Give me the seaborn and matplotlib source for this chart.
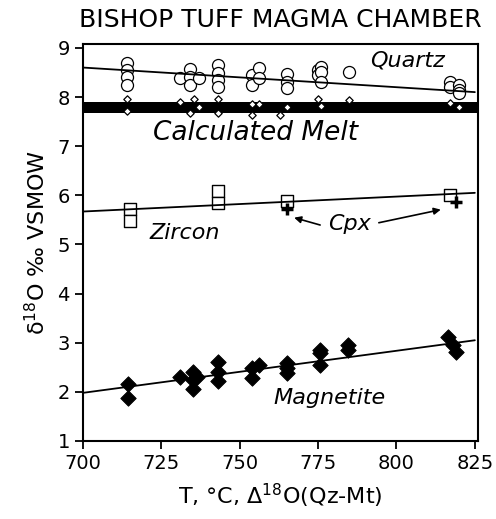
import numpy as np
import pandas as pd
import matplotlib.pyplot as plt
import seaborn as sns

# Quartz (open circles)
quartz_T = [714, 714, 714, 714, 731, 734, 734, 734, 737, 743, 743, 743, 743,
            754, 754, 756, 756, 765, 765, 765, 775, 775, 776, 776, 776, 785,
            817, 817, 820, 820, 820]
quartz_d18O = [8.70, 8.55, 8.40, 8.25, 8.38, 8.57, 8.40, 8.24, 8.39, 8.65, 8.48, 8.35, 8.21,
               8.45, 8.24, 8.59, 8.38, 8.47, 8.31, 8.19, 8.55, 8.45, 8.62, 8.50, 8.30, 8.50,
               8.30, 8.20, 8.25, 8.15, 8.08]

# Calculated melt per sample (small open diamonds)
melt_T = [714, 714, 731, 734, 735.5, 737, 743, 743, 754, 754, 756, 763, 765,
          775, 776, 785, 817, 820]
melt_d18O = [7.95, 7.72, 7.90, 7.67, 7.97, 7.80, 7.97, 7.67, 7.85, 7.63, 7.85, 7.63, 7.80,
             7.96, 7.82, 7.94, 7.87, 7.80]
melt_band = [7.68, 7.90]

# Zircon (open squares) and Cpx (plus)
zircon_T = [715, 715, 743, 743, 765, 817]
zircon_d18O = [5.73, 5.48, 6.08, 5.84, 5.88, 6.00]
cpx_T = [765, 819]
cpx_d18O = [5.72, 5.86]

# Magnetite (filled diamonds)
mag_T = [714.5, 714.5, 731, 735, 735, 735, 736.5, 743, 743, 743, 754, 754, 756,
         765, 765, 765, 775.5, 775.5, 775.5, 784.5, 784.5, 816.5, 818, 819]
mag_d18O = [2.15, 1.87, 2.31, 2.41, 2.24, 2.06, 2.30, 2.60, 2.41, 2.22, 2.48, 2.28, 2.55,
            2.59, 2.48, 2.38, 2.85, 2.80, 2.55, 2.96, 2.86, 3.12, 2.96, 2.82]

# Fitted lines (at the two ends)
line_T = [700, 825]
quartz_line = [8.60, 8.10]
zircon_line = [5.67, 6.05]
mag_line = [1.98, 3.05]

sns.set_theme(style="ticks")
plt.rcParams['font.family'] = ['DejaVu Sans']
plt.rcParams['mathtext.default'] = 'regular'
# seaborn uses dark grey for text; the original is plain black
for key in ['text.color', 'axes.labelcolor', 'xtick.color', 'ytick.color', 'axes.edgecolor']:
    plt.rcParams[key] = 'black'

fig = plt.figure(figsize=(4.96, 5.19), dpi=100)
ax = fig.add_axes([0.1673, 0.1503, 0.7964, 0.765])

ax.axhspan(melt_band[0], melt_band[1], color='black', lw=0, zorder=1)

sns.scatterplot(x=quartz_T, y=quartz_d18O, marker='o', s=75, facecolor='white',
                edgecolor='black', linewidth=0.9, ax=ax, zorder=3)
sns.scatterplot(x=melt_T, y=melt_d18O, marker='D', s=14, facecolor='white',
                edgecolor='black', linewidth=0.9, ax=ax, zorder=4)
sns.scatterplot(x=zircon_T, y=zircon_d18O, marker='s', s=80, facecolor='white',
                edgecolor='black', linewidth=1.0, ax=ax, zorder=3)
sns.scatterplot(x=cpx_T, y=cpx_d18O, marker='+', s=80, color='black',
                linewidth=2.5, ax=ax, zorder=4)
sns.scatterplot(x=mag_T, y=mag_d18O, marker='D', s=62, color='black',
                edgecolor='black', ax=ax, zorder=3)

for yline in [quartz_line, zircon_line, mag_line]:
    sns.lineplot(x=line_T, y=yline, color='black', lw=1.3, ax=ax, zorder=5)

ax.text(791.5, 8.75, 'Quartz', fontsize=16, style='italic', va='center', ha='left')
ax.text(755, 7.26, 'Calculated Melt', fontsize=19, style='italic', va='center', ha='center')
ax.text(732.5, 5.24, 'Zircon', fontsize=16, style='italic', va='center', ha='center')
ax.text(785, 5.41, 'Cpx', fontsize=16, style='italic', va='center', ha='center')
ax.text(778.5, 1.87, 'Magnetite', fontsize=16, style='italic', va='center', ha='center')

arrow = dict(arrowstyle='-|>', color='black', lw=1.2, mutation_scale=10)
ax.annotate('', xy=(766.5, 5.56), xytext=(776.5, 5.38), arrowprops=arrow)
ax.annotate('', xy=(815, 5.72), xytext=(793.5, 5.43), arrowprops=arrow)

ax.set_xlim(700, 826)
ax.set_ylim(1, 9.08)
ax.set_xticks([700, 725, 750, 775, 800, 825])
ax.set_yticks(range(1, 10))
ax.tick_params(direction='out', length=6, width=1.3, labelsize=14, color='black',
               labelcolor='black')
for sp in ax.spines.values():
    sp.set_visible(True)
    sp.set_linewidth(1.5)
    sp.set_color('black')

ax.set_xlabel(r'T, °C, $\Delta^{18}$O(Qz-Mt)', fontsize=16, labelpad=6)
ax.set_ylabel(r'$\delta^{18}$O ‰ VSMOW', fontsize=16, labelpad=6)
ax.set_title('BISHOP TUFF MAGMA CHAMBER', fontsize=18, pad=12)

fig.savefig('out.png', dpi=100)
